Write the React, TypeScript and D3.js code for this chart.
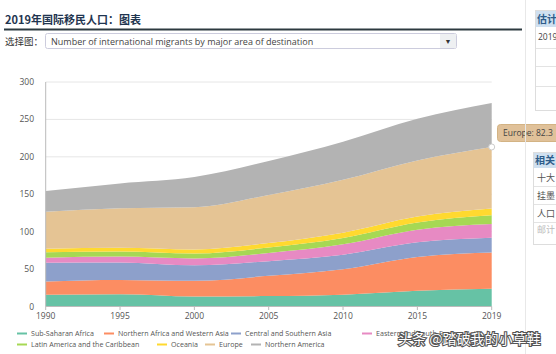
import React from "react";
import * as d3 from "d3";

const years = ["1990", "1995", "2000", "2005", "2010", "2015", "2019"];
const seriesNames = [
  "Sub-Saharan Africa",
  "Northern Africa and Western Asia",
  "Central and Southern Asia",
  "Eastern and South-Eastern Asia",
  "Latin America and the Caribbean",
  "Oceania",
  "Europe",
  "Northern America",
];
const subSaharanAfrica = [15.7, 16.4, 13.4, 13.9, 15.7, 21.0, 23.6];
const northernAfricaWesternAsia = [17.8, 19.0, 20.9, 27.1, 34.0, 45.3, 48.6];
const centralSouthernAsia = [25.0, 23.4, 20.7, 19.6, 19.4, 19.4, 19.6];
const easternSouthEasternAsia = [6.8, 8.0, 9.3, 11.0, 14.1, 17.0, 18.3];
const latinAmericaCaribbean = [7.1, 6.8, 6.6, 7.2, 8.3, 9.4, 11.7];
const oceania = [4.7, 5.0, 5.4, 6.0, 7.1, 8.1, 9.1];
const europe = [49.6, 52.6, 56.3, 64.2, 70.8, 75.0, 82.3];
const northernAmerica = [27.6, 33.3, 40.4, 45.4, 50.9, 55.6, 58.6];
const yTicks = [0, 50, 100, 150, 200, 250, 300];
const colors = ["#66c2a5", "#fc8d62", "#8da0cb", "#e78ac3", "#a6d854", "#ffd92f", "#e5c494", "#b3b3b3"];

const allSeries = [
  subSaharanAfrica,
  northernAfricaWesternAsia,
  centralSouthernAsia,
  easternSouthEasternAsia,
  latinAmericaCaribbean,
  oceania,
  europe,
  northernAmerica,
];

const rows = years.map((y, i) => {
  const r: any = { year: y };
  seriesNames.forEach((n, k) => (r[n] = allSeries[k][i]));
  return r;
});

const legendRow1 = [
  { k: 0, x: 17 },
  { k: 1, x: 104 },
  { k: 2, x: 231 },
  { k: 3, x: 362 },
];
const legendRow2 = [
  { k: 4, x: 17 },
  { k: 5, x: 157 },
  { k: 6, x: 205 },
  { k: 7, x: 251 },
];

export default function App() {
  const W = 556, H = 354;
  const x = d3.scalePoint().domain(years).range([45.7, 491.7]);
  const y = d3.scaleLinear().domain([0, 300]).range([306.5, 82]);
  const stack = d3.stack<any>().keys(seriesNames);
  const layers = stack(rows);
  const area = d3
    .area<any>()
    .x((d) => x(d.data.year) as number)
    .y0((d) => y(d[0]))
    .y1((d) => y(d[1]))
    .curve(d3.curveMonotoneX);
  const font = "'Open Sans', 'Noto Sans', sans-serif";
  const cjk = "'Noto Sans CJK SC', sans-serif";
  const euTop = layers[6][6][1];
  const legendItem = (it: { k: number; x: number }, yy: number) => (
    <g key={it.k}>
      <line x1={it.x} x2={it.x + 10} y1={yy - 2.5} y2={yy - 2.5} stroke={colors[it.k]} strokeWidth={2} />
      <text x={it.x + 14} y={yy} fontSize={7.1} fill="#555" fontFamily={font}>
        {seriesNames[it.k]}
      </text>
    </g>
  );
  return (
    <div style={{ position: "fixed", left: 0, top: 0 }}>
      <svg width={W} height={H} style={{ display: "block", background: "#fff" }}>
        {/* title */}
        <text x={5} y={24} fontSize={11} fontWeight="bold" fill="#1f3550" fontFamily={cjk}>
          2019年国际移民人口：图表
        </text>
        <line x1={4} x2={522} y1={29.5} y2={29.5} stroke="#2d3a40" strokeWidth={2} />
        <text x={5} y={45} fontSize={9.5} fill="#333" fontFamily={cjk}>
          选择图：
        </text>
        <rect x={45.5} y={33.5} width={411} height={15} rx={2} fill="#fff" stroke="#ccd" />
        <rect x={440} y={34} width={16} height={14} fill="#eef0f2" />
        <text x={448} y={44} fontSize={7} textAnchor="middle" fill="#333">▼</text>
        <text x={51} y={44.5} fontSize={9} fill="#444" fontFamily={font}>
          Number of international migrants by major area of destination
        </text>

        {/* grid */}
        {yTicks.map((t) => (
          <g key={t}>
            <line x1={45.7} x2={491.7} y1={y(t)} y2={y(t)} stroke="#e6e6e6" strokeWidth={1} />
            <text x={34} y={y(t) + 3} fontSize={8.5} textAnchor="end" fill="#555" fontFamily={font}>
              {t}
            </text>
          </g>
        ))}

        {layers.map((l, i) => (
          <path key={i} d={area(l) as string} fill={colors[i]} />
        ))}

        <line x1={45.7} x2={45.7} y1={82} y2={306.5} stroke="#bbb" />
        <line x1={45.7} x2={491.7} y1={306.5} y2={306.5} stroke="#bbb" />
        {years.map((yr) => (
          <g key={yr}>
            <line x1={x(yr)} x2={x(yr)} y1={306.5} y2={310} stroke="#bbb" />
            <text x={x(yr)} y={319} fontSize={8.5} textAnchor="middle" fill="#555" fontFamily={font}>
              {yr}
            </text>
          </g>
        ))}

        {/* hover marker + tooltip */}
        <circle cx={x("2019")} cy={y(euTop)} r={3} fill="#fff" stroke="#ccc" strokeWidth={1} />
        <rect x={497.5} y={124.5} width={62} height={17} rx={3} fill="#e0c199" stroke="#d3b384" />
        <text x={503} y={136} fontSize={8.5} fill="#444" fontFamily={font}>
          Europe: 82.3
        </text>

        {/* right side panels */}
        <line x1={525.5} x2={525.5} y1={0} y2={354} stroke="#e8e8e8" />
        <rect x={535.5} y={10.5} width={30} height={100} fill="#fff" stroke="#ddd" />
        <rect x={536} y={11} width={30} height={16} fill="#cfe0f0" />
        <text x={537} y={23} fontSize={10} fontWeight="bold" fill="#2d5c8a" fontFamily={cjk}>估计</text>
        <text x={538} y={40} fontSize={8.5} fill="#444" fontFamily={font}>2019</text>
        {[48, 66, 86].map((v) => (
          <line key={v} x1={536} x2={556} y1={v + 0.5} y2={v + 0.5} stroke="#e3e3e3" />
        ))}
        <rect x={533.5} y={152.5} width={30} height={92} fill="#fff" stroke="#ddd" />
        <rect x={534} y={153} width={30} height={15} fill="#cfe0f0" />
        <text x={535} y={164} fontSize={10} fontWeight="bold" fill="#2d5c8a" fontFamily={cjk}>相关</text>
        <text x={537} y={181} fontSize={9} fill="#555" fontFamily={cjk}>十大</text>
        <text x={537} y={199} fontSize={9} fill="#555" fontFamily={cjk}>挂墨</text>
        <text x={537} y={217} fontSize={9} fill="#555" fontFamily={cjk}>人口</text>
        <text x={537} y={233} fontSize={9} fill="#bbb" fontFamily={cjk}>邮计</text>
        {[186, 204, 222].map((v) => (
          <line key={v} x1={534} x2={556} y1={v + 0.5} y2={v + 0.5} stroke="#e3e3e3" />
        ))}

        {/* legend */}
        {legendRow1.map((it) => legendItem(it, 336))}
        {legendRow2.map((it) => legendItem(it, 347))}

        {/* watermark */}
        <text
          x={398}
          y={344}
          fontSize={14}
          fill="#fff"
          stroke="#555"
          strokeWidth={2.2}
          paintOrder="stroke"
          fontFamily={cjk}
        >
          头条 @踏破我的小草鞋
        </text>
      </svg>
    </div>
  );
}
